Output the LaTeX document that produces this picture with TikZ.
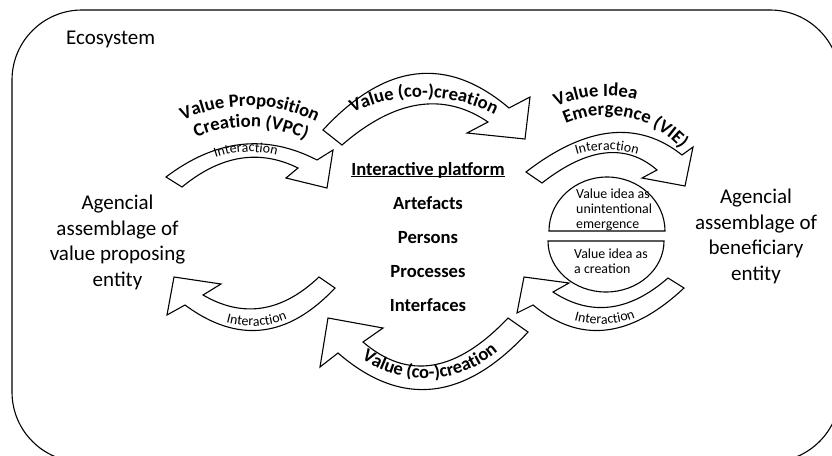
\documentclass[tikz,border=0pt]{standalone}
\usepackage{fontspec}
\setmainfont{Carlito}
\usetikzlibrary{calc,decorations.text}
\newcommand\mysmall{\fontsize{13.9}{15}\selectfont}
\newcommand\mybold{\bfseries\fontsize{18.6}{20}\selectfont}
\begin{document}
\begin{tikzpicture}[x=1pt,y=-1pt,
  arr/.style={draw=black, fill=white, line width=1.1pt, line join=miter},
  frame/.style={draw=black, line width=1.1pt, rounded corners=70pt},
  big/.style={font=\fontsize{21}{25.4}\selectfont, align=center, inner sep=0pt},
  boldtxt/.style={font=\mybold, inner sep=0pt},
  smalltxt/.style={font=\mysmall, align=left, inner sep=0pt},
  arctext/.style={decorate, decoration={text along path, text align=center, text={#1}}}
]
\useasboundingbox (0,0) rectangle (832,455);
\clip (0,0) rectangle (832,455);

% ecosystem frame
\draw[frame] (12,10) rectangle (840,462);
\node[font=\fontsize{21}{25}\selectfont, anchor=base west, inner sep=0pt] (eco) at (66,44) {Ecosystem};

% A1: VPC interaction arrow
\draw[arr] (166,177) .. controls ($(166,177)!2/3!(240.5,120.5)$) and ($(317,160)!2/3!(240.5,120.5)$) .. (317,160)
  -- (333,150) -- (327,188) -- (286,178) -- (298,168)
  .. controls ($(298,168)!2/3!(240,139.3)$) and ($(182,187)!2/3!(240,139.3)$) .. (182,187) -- cycle;
% A2: top value (co-)creation arrow
\draw[arr] (323,130) .. controls ($(323,130)!2/3!(416,29)$) and ($(509,108)!2/3!(416,29)$) .. (509,108)
  -- (530,97) -- (525,139) -- (467,133) -- (488,122)
  .. controls ($(488,122)!2/3!(421,76.5)$) and ($(342,145)!2/3!(421,76.5)$) .. (342,145) -- cycle;
% A3: VIE interaction arrow
\draw[arr] (526,172) .. controls ($(526,172)!2/3!(616,102.5)$) and ($(682,155)!2/3!(616,102.5)$) .. (682,155)
  -- (693,147) -- (685,186) -- (642,178) -- (657,170)
  .. controls ($(657,170)!2/3!(610.5,129.5)$) and ($(542,183)!2/3!(610.5,129.5)$) .. (542,183) -- cycle;
% A4: bottom-left interaction arrow
\draw[arr] (335,288) .. controls ($(335,288)!2/3!(264,363.5)$) and ($(185,305)!2/3!(264,363.5)$) .. (185,305)
  -- (167,315) -- (174,277) -- (221,284) -- (203,295)
  .. controls ($(203,295)!2/3!(263,330)$) and ($(319,277)!2/3!(263,330)$) .. (319,277) -- cycle;
% A5: bottom value (co-)creation arrow
\draw[arr] (528,332) .. controls ($(528,332)!2/3!(433,435.5)$) and ($(338,353)!2/3!(433,435.5)$) .. (338,353)
  -- (320,367) -- (328,318) -- (383,328) -- (363,342)
  .. controls ($(363,342)!2/3!(430.5,400)$) and ($(508,318)!2/3!(430.5,400)$) .. (508,318) -- cycle;
% A6: bottom-right interaction arrow
\draw[arr] (684,288) .. controls ($(684,288)!2/3!(603.5,363.5)$) and ($(533,305)!2/3!(603.5,363.5)$) .. (533,305)
  -- (517,313) -- (524,277) -- (569,283) -- (553,292)
  .. controls ($(553,292)!2/3!(609.5,329)$) and ($(668,278)!2/3!(609.5,329)$) .. (668,278) -- cycle;

% semicircles
\draw[arr] (549,231) .. controls (549,201.2) and (575,177) .. (607,177)
  .. controls (639,177) and (665,201.2) .. (665,231) -- cycle;
\draw[arr] (548,241) .. controls (548,269.2) and (574,292) .. (606,292)
  .. controls (638,292) and (664,269.2) .. (664,241) -- cycle;
\node[smalltxt, anchor=base west] (vie1) at (576,228.3) {Value idea as\\unintentional\\emergence};
\node[smalltxt, anchor=base west] (vie2) at (574,273.3) {Value idea as\\a creation};

% curved texts
\path[arctext={|\mysmall|Interaction}]
  plot[domain=0:1, samples=60] ({250+106*cos(217.8+100*\x)}, {258+106*sin(217.8+100*\x)});
\path[arctext={|\mybold|Value (co-)creation}]
  plot[domain=0:1, samples=60] ({422+160*cos(230.7+80*\x)}, {257+160*sin(230.7+80*\x)});
\path[arctext={|\mybold|Value Proposition}]
  plot[domain=0:1, samples=60] ({248+156*cos(230.7+80*\x)}, {262+156*sin(230.7+80*\x)});
\path[arctext={|\mybold|Creation (VPC)}]
  plot[domain=0:1, samples=60] ({248+135*cos(231.3+80*\x)}, {262+135*sin(231.3+80*\x)});
\path[arctext={|\mybold|Value Idea}]
  plot[domain=0:1, samples=60] ({606+118*cos(230+70*\x)}, {214+118*sin(230+70*\x)});
\path[arctext={|\mybold|Emergence (VIE)}]
  plot[domain=0:1, samples=60] ({606+99*cos(237.5+90*\x)}, {214+99*sin(237.5+90*\x)});
\path[arctext={|\mysmall|Interaction}]
  plot[domain=0:1, samples=60] ({607+105*cos(220+100*\x)}, {255+105*sin(220+100*\x)});
\path[arctext={|\mysmall|Interaction}]
  plot[domain=0:1, samples=60] ({252+97*cos(137-100*\x)}, {229+97*sin(137-100*\x)});
\path[arctext={|\mybold|Value (co-)creation}]
  plot[domain=0:1, samples=60] ({425+111*cos(131.9-90*\x)}, {267.5+111*sin(131.9-90*\x)});
\path[arctext={|\mysmall|Interaction}]
  plot[domain=0:1, samples=60] ({601+97*cos(137.6-100*\x)}, {227+97*sin(137.6-100*\x)});

% entities
\node[big, anchor=base] (vpe) at (117.5,286) {Agencial\\assemblage of\\value proposing\\entity};
\node[big, anchor=base] (ben) at (756,280) {Agencial\\assemblage of\\beneficiary\\entity};

% interactive platform
\node[boldtxt, anchor=base] (ip) at (428,175) {Interactive platform};
\draw[line width=1.1pt] ([yshift=-1.8pt]ip.base west) -- ([yshift=-1.8pt]ip.base east);
\node[boldtxt, anchor=base] (art) at (428,209) {Artefacts};
\node[boldtxt, anchor=base] (per) at (428,243.3) {Persons};
\node[boldtxt, anchor=base] (pro) at (428,277.3) {Processes};
\node[boldtxt, anchor=base] (itf) at (428,311.7) {Interfaces};
\end{tikzpicture}
\end{document}
